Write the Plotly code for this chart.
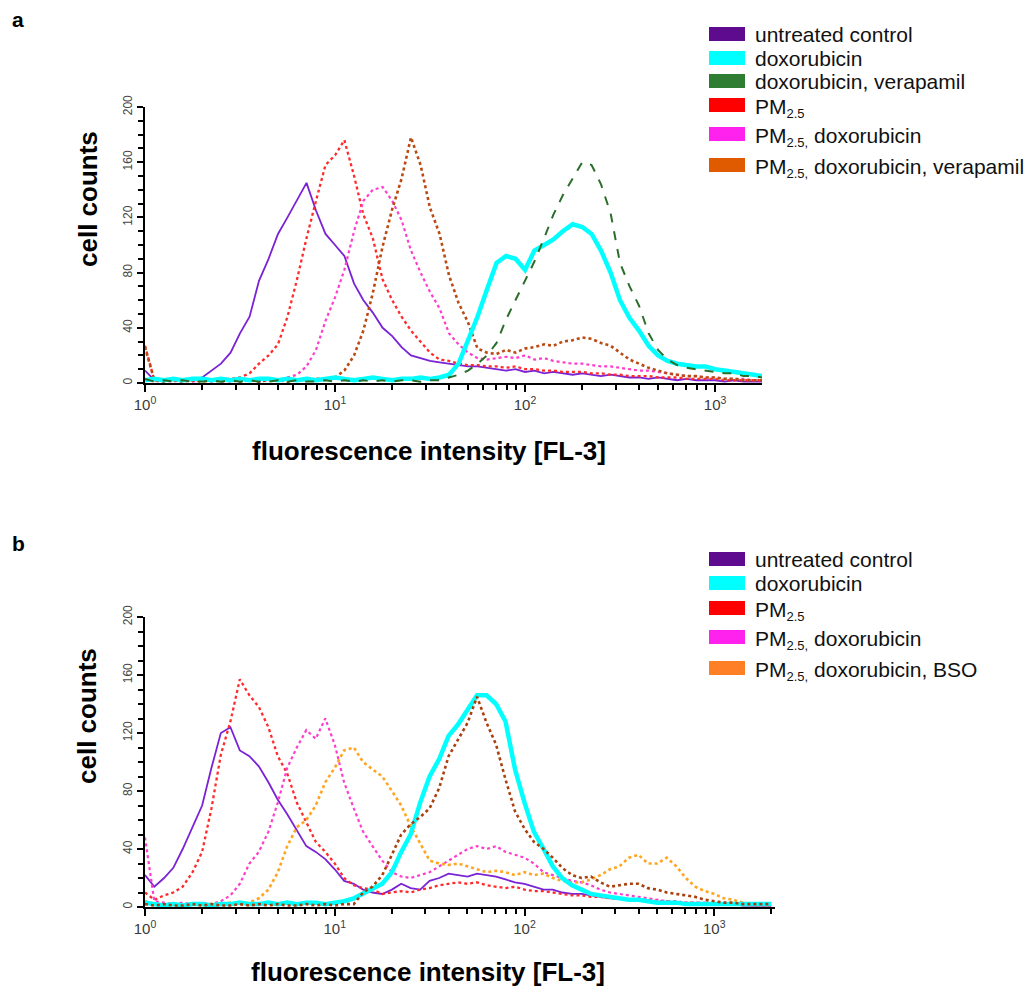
import plotly.graph_objects as go

# ---------------- data ----------------
# fluorescence channel positions (FL-3 intensity)
X = [1.00, 1.12, 1.26, 1.41, 1.58, 1.78, 2.00, 2.24, 2.51, 2.82,
     3.16, 3.55, 3.98, 4.47, 5.01, 5.62, 6.31, 7.08, 7.94, 8.91,
     10.0, 11.2, 12.6, 14.1, 15.8, 17.8, 20.0, 22.4, 25.1, 28.2,
     31.6, 35.5, 39.8, 44.7, 50.1, 56.2, 63.1, 70.8, 79.4, 89.1,
     100, 112, 126, 141, 158, 178, 200, 224, 251, 282,
     316, 355, 398, 447, 501, 562, 631, 708, 794, 891,
     1000, 1122, 1259, 1413, 1585, 1778, 1995]

# panel a
A_untreated = [9, 2, 3, 2, 3, 2, 4, 9, 14, 22, 36, 48, 74, 90, 108, 120, 132, 145, 125, 108,
               100, 92, 72, 60, 51, 40, 34, 26, 20, 18, 16, 15, 14, 13, 12, 12, 11, 10, 9, 10,
               8, 9, 7, 8, 7, 6, 7, 6, 5, 6, 5, 4, 4, 3, 4, 3, 2, 3, 2, 2,
               2, 1, 2, 1, 1, 1, 1]
A_dox = [2, 3, 2, 3, 2, 3, 3, 2, 3, 2, 3, 2, 3, 3, 2, 3, 2, 3, 2, 3,
         4, 3, 2, 3, 4, 3, 2, 3, 3, 4, 3, 4, 6, 14, 30, 48, 68, 87, 92, 90,
         82, 96, 100, 104, 110, 115, 113, 108, 96, 80, 60, 47, 38, 27, 20, 16, 14, 13, 12, 12,
         10, 9, 8, 7, 6, 5, 5]
A_dox_verapamil = [3, 1, 2, 1, 2, 1, 1, 2, 1, 2, 1, 2, 1, 1, 2, 1, 2, 1, 1, 2,
                   1, 2, 1, 2, 1, 2, 1, 2, 2, 1, 2, 2, 4, 6, 9, 14, 20, 29, 46, 60,
                   75, 88, 105, 122, 136, 148, 160, 158, 144, 123, 87, 70, 56, 36, 24, 17, 13, 11, 10, 9,
                   8, 7, 7, 5, 5, 4, 4]
A_pm = [27, 2, 2, 3, 2, 2, 2, 2, 3, 3, 4, 7, 14, 20, 28, 48, 75, 105, 132, 158,
        165, 176, 150, 122, 105, 75, 60, 48, 38, 30, 22, 17, 16, 14, 13, 13, 12, 12, 11, 12,
        10, 10, 9, 9, 8, 8, 8, 7, 7, 6, 6, 5, 5, 5, 4, 4, 4, 3, 3, 3,
        3, 2, 2, 2, 2, 2, 2]
A_pm_dox = [3, 1, 2, 1, 2, 1, 2, 1, 2, 1, 2, 2, 1, 2, 2, 4, 6, 12, 24, 45,
            62, 82, 110, 132, 140, 142, 132, 118, 96, 80, 66, 54, 36, 28, 22, 18, 17, 18, 19, 18,
            20, 17, 18, 16, 15, 14, 14, 13, 12, 12, 11, 10, 9, 9, 8, 7, 6, 5, 5, 4,
            4, 3, 3, 3, 2, 2, 2]
A_pm_dox_verapamil = [26, 2, 1, 2, 1, 2, 1, 2, 1, 2, 1, 2, 1, 2, 2, 1, 2, 2, 3, 3,
                      4, 9, 20, 38, 65, 99, 126, 148, 178, 158, 127, 108, 78, 58, 44, 25, 22, 21, 24, 22,
                      25, 26, 28, 27, 30, 31, 33, 32, 29, 27, 22, 17, 14, 11, 9, 7, 6, 5, 5, 4,
                      4, 3, 3, 2, 2, 2, 2]

# panel b
B_untreated = [22, 14, 20, 27, 40, 55, 70, 96, 120, 124, 108, 104, 97, 86, 74, 64, 53, 42, 38, 33,
               26, 18, 16, 12, 10, 9, 12, 16, 13, 12, 18, 20, 23, 22, 21, 23, 22, 21, 19, 17,
               16, 14, 12, 12, 10, 9, 9, 8, 7, 6, 6, 5, 4, 4, 3, 3, 3, 2, 2, 2,
               2, 2, 2, 1, 1, 1, 1]
B_dox = [3, 2, 1, 2, 1, 2, 2, 1, 2, 2, 3, 2, 2, 3, 2, 3, 2, 3, 3, 2,
         3, 4, 6, 9, 12, 16, 24, 38, 50, 72, 90, 102, 118, 126, 136, 146, 146, 140, 128, 95,
         72, 52, 40, 28, 20, 15, 12, 9, 8, 7, 6, 5, 5, 4, 3, 3, 3, 2, 2, 2,
         2, 2, 2, 2, 2, 2, 2]
B_pm = [10, 5, 8, 10, 14, 24, 38, 68, 105, 128, 157, 146, 138, 124, 104, 92, 72, 58, 45, 38,
        30, 20, 15, 13, 12, 9, 10, 11, 10, 12, 13, 15, 16, 17, 16, 17, 15, 14, 13, 14,
        12, 11, 11, 10, 9, 8, 8, 7, 7, 6, 6, 5, 5, 5, 4, 4, 3, 3, 3, 2,
        2, 2, 2, 2, 1, 1, 1]
B_pm_dox = [48, 4, 3, 2, 3, 2, 3, 2, 4, 8, 16, 30, 38, 52, 72, 96, 110, 122, 116, 130,
            112, 86, 68, 52, 42, 32, 24, 21, 20, 22, 24, 28, 32, 36, 40, 42, 40, 42, 38, 36,
            34, 30, 24, 22, 20, 18, 17, 15, 12, 10, 9, 8, 7, 6, 5, 4, 4, 3, 3, 3,
            2, 2, 2, 2, 1, 1, 1]
B_pm_dox_bso = [4, 2, 1, 2, 1, 2, 1, 2, 2, 3, 2, 3, 6, 12, 24, 42, 55, 60, 70, 86,
                96, 108, 110, 100, 95, 90, 80, 70, 56, 44, 32, 30, 29, 30, 28, 26, 24, 25, 24, 22,
                24, 22, 23, 20, 18, 17, 17, 19, 22, 26, 28, 34, 36, 30, 30, 34, 28, 20, 14, 11,
                9, 6, 5, 3, 2, 2, 2]
B_extra_brown = [2, 1, 2, 1, 1, 2, 1, 2, 1, 1, 2, 1, 2, 1, 2, 1, 1, 2, 1, 2,
                 1, 2, 2, 10, 14, 22, 36, 50, 57, 62, 68, 82, 104, 116, 127, 145, 127, 112, 88, 66,
                 54, 45, 40, 34, 27, 22, 20, 21, 17, 14, 15, 16, 16, 13, 12, 10, 9, 8, 7, 5,
                 4, 3, 3, 2, 2, 2, 2]

X_TICKS = [1, 10, 100, 1000]
X_TICKTEXT = ["10<sup>0</sup>", "10<sup>1</sup>", "10<sup>2</sup>", "10<sup>3</sup>"]
X_MINOR = [2, 3, 4, 5, 6, 7, 8, 9, 20, 30, 40, 50, 60, 70, 80, 90,
           200, 300, 400, 500, 600, 700, 800, 900, 2000]
Y_TICKS = [0, 40, 80, 120, 160, 200]

SUB = '<sub><span style="font-size:13px">2.5</span></sub>'
SUBC = '<sub><span style="font-size:13px">2.5,</span></sub>'
LEGEND_A = ["untreated control", "doxorubicin", "doxorubicin, verapamil",
            "PM" + SUB, "PM" + SUBC + " doxorubicin",
            "PM" + SUBC + " doxorubicin, verapamil"]
LEGEND_B = ["untreated control", "doxorubicin", "PM" + SUB,
            "PM" + SUBC + " doxorubicin", "PM" + SUBC + " doxorubicin, BSO"]

# ---------------- styling ----------------
W, H = 1034, 992
OFF = 8  # page body margin
FONT = "Liberation Sans, Arial, Helvetica, sans-serif"


def px(x):
    return (x - OFF) / W


def py(y):
    return 1 - (y - OFF) / H


C_PURPLE = "#7a22d6"
C_CYAN = "#00ffff"
C_GREEN = "#2b6e2b"
C_RED = "#ff2a2a"
C_PINK = "#ff3dcc"
C_BROWN = "#bb4a12"
C_ORANGE = "#ffa51f"
C_BROWN_B = "#a9400e"

SW_A = ["#5e0b8f", "#00ffff", "#2e7d32", "#ff0000", "#ff22ee", "#e05a00"]
SW_B = ["#5e0b8f", "#00ffff", "#ff0000", "#ff22ee", "#ff7f27"]

fig = go.Figure()


def add(xa, ya, yvals, color, width, dash, name):
    fig.add_trace(go.Scatter(
        x=X, y=yvals, mode="lines", name=name, showlegend=False,
        line=dict(color=color, width=width, dash=dash),
        xaxis=xa, yaxis=ya, hoverinfo="skip"))


# panel a
add("x", "y", A_untreated, C_PURPLE, 1.8, "solid", "untreated control")
add("x", "y", A_pm, C_RED, 2.3, "dot", "PM2.5")
add("x", "y", A_pm_dox, C_PINK, 2.2, "dot", "PM2.5, doxorubicin")
add("x", "y", A_pm_dox_verapamil, C_BROWN, 2.6, "dot", "PM2.5, doxorubicin, verapamil")
add("x", "y", A_dox, C_CYAN, 4.5, "solid", "doxorubicin")
add("x", "y", A_dox_verapamil, C_GREEN, 2, "dash", "doxorubicin, verapamil")

# panel b
add("x2", "y2", B_untreated, C_PURPLE, 1.8, "solid", "untreated control")
add("x2", "y2", B_pm, C_RED, 2.3, "dot", "PM2.5")
add("x2", "y2", B_pm_dox, C_PINK, 2.2, "dot", "PM2.5, doxorubicin")
add("x2", "y2", B_pm_dox_bso, C_ORANGE, 2.6, "dot", "PM2.5, doxorubicin, BSO")
add("x2", "y2", B_dox, C_CYAN, 4.5, "solid", "doxorubicin")
add("x2", "y2", B_extra_brown, C_BROWN_B, 2.6, "dot", "")

xcommon = dict(
    type="log", showline=True, linecolor="black", linewidth=2,
    ticks="outside", tickcolor="black", tickwidth=2, ticklen=7,
    tickvals=X_TICKS, ticktext=X_TICKTEXT,
    tickfont=dict(family=FONT, size=15, color="#3a3a3a"),
    minor=dict(tickvals=X_MINOR, ticks="outside", ticklen=5, tickwidth=1.5, tickcolor="black"),
    showgrid=False, zeroline=False, fixedrange=True, automargin=False,
)
ycommon = dict(
    range=[0, 200], showline=True, linecolor="black", linewidth=2,
    ticks="outside", tickcolor="black", tickwidth=2, ticklen=6,
    tickvals=Y_TICKS, tickangle=-90,
    tickfont=dict(family=FONT, size=12, color="#444444"),
    minor=dict(dtick=10, ticks="outside", ticklen=5, tickwidth=1.5, tickcolor="black"),
    showgrid=False, zeroline=False, fixedrange=True, automargin=False,
)

fig.update_layout(
    width=W, height=H, margin=dict(l=0, r=0, t=0, b=0, autoexpand=False),
    paper_bgcolor="white", plot_bgcolor="white",
    showlegend=False,
    xaxis=dict(xcommon, domain=[px(145), px(762)], range=[0, 3.247], anchor="y"),
    yaxis=dict(ycommon, domain=[py(383), py(107)], anchor="x"),
    xaxis2=dict(xcommon, domain=[px(145), px(775)], range=[0, 3.32], anchor="y2"),
    yaxis2=dict(ycommon, domain=[py(907), py(617)], anchor="x2"),
)

ann = []
shapes = []


def text(x, y, s, size, bold=False, angle=0, xanchor="center", color="black"):
    ann.append(dict(
        x=px(x), y=py(y), xref="paper", yref="paper", text=s, showarrow=False,
        xanchor=xanchor, yanchor="middle", textangle=angle,
        font=dict(family=FONT, size=size, color=color, weight="bold" if bold else "normal")))


# panel letters
text(10, 20, "a", 21, bold=True, xanchor="left")
text(10, 543, "b", 21, bold=True, xanchor="left")

# axis titles
text(88, 199, "cell counts", 26, bold=True, angle=-90)
text(429, 451, "fluorescence intensity [FL-3]", 26, bold=True)
text(87, 716, "cell counts", 26, bold=True, angle=-90)
text(428, 972, "fluorescence intensity [FL-3]", 26, bold=True)


def legend(rows, labels, colors):
    for yc, lab, col in zip(rows, labels, colors):
        shapes.append(dict(type="rect", xref="paper", yref="paper",
                           x0=px(709), x1=px(745), y0=py(yc + 7), y1=py(yc - 7),
                           fillcolor=col, line=dict(width=0)))
        off = 3 if "<sub>" in lab else 0
        text(753, yc + off, lab, 21, xanchor="left", color="#111111")


legend([34, 58, 81, 105, 134, 165], LEGEND_A, SW_A)
legend([559, 583, 608, 637, 668], LEGEND_B, SW_B)

fig.update_layout(annotations=ann, shapes=shapes)

fig.write_html("out.html")
